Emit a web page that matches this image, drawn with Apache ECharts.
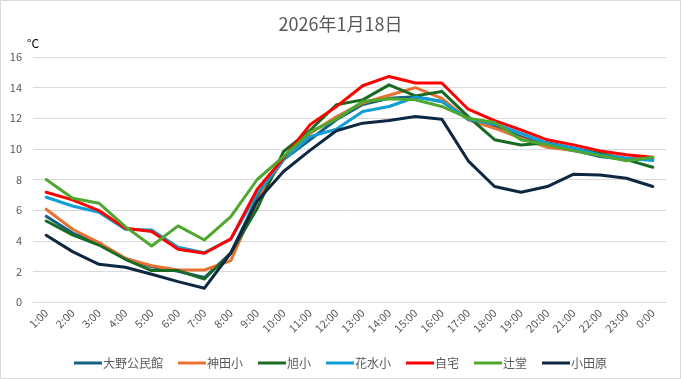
<!DOCTYPE html>
<html><head><meta charset="utf-8">
<script src="https://cdn.jsdelivr.net/npm/echarts@6/dist/echarts.min.js"></script>
<style>html,body{margin:0;padding:0;background:#fff}#c{width:681px;height:379px}</style>
</head><body><div id="c"></div>
<script>
const hours = ['1:00','2:00','3:00','4:00','5:00','6:00','7:00','8:00','9:00','10:00','11:00','12:00','13:00','14:00','15:00','16:00','17:00','18:00','19:00','20:00','21:00','22:00','23:00','0:00'];
const seriesNames = ['大野公民館','神田小','旭小','花水小','自宅','辻堂','小田原'];
const oono    = [5.6,4.5,3.8,2.85,2.3,2.0,1.6,3.2,6.8,9.3,10.6,11.9,12.9,13.3,13.4,13.1,12.0,11.5,10.8,10.2,9.9,9.5,9.3,9.3];
const kanda   = [6.06,4.75,3.88,2.85,2.37,2.09,2.09,2.7,6.6,9.4,11.0,12.1,13.0,13.5,14.0,13.3,11.9,11.35,10.7,10.1,9.9,9.7,9.4,9.4];
const asahi   = [5.29,4.38,3.72,2.79,2.05,2.05,1.5,3.2,6.1,9.83,11.2,12.88,13.2,14.18,13.46,13.75,12.11,10.6,10.25,10.4,10.05,9.7,9.3,8.8];
const hanamizu= [6.84,6.27,5.86,4.75,4.7,3.57,3.22,4.1,7.1,9.3,10.8,11.28,12.44,12.77,13.37,13.1,11.94,11.63,11.02,10.37,10.04,9.6,9.39,9.24];
const jitaku  = [7.17,6.67,5.97,4.81,4.6,3.44,3.18,4.12,7.36,9.4,11.57,12.76,14.12,14.73,14.3,14.3,12.59,11.85,11.24,10.59,10.26,9.87,9.61,9.46];
const tsujido = [8.0,6.78,6.45,4.92,3.66,4.97,4.05,5.58,8.0,9.5,11.1,11.94,13.1,13.27,13.2,12.77,12.0,11.72,10.59,10.26,9.87,9.56,9.22,9.46];
const odawara = [4.36,3.29,2.46,2.27,1.81,1.33,0.9,3.2,6.6,8.52,9.9,11.18,11.68,11.85,12.11,11.94,9.22,7.54,7.17,7.54,8.35,8.3,8.08,7.54];
const colors = ['#156082','#E97132','#196B24','#0F9ED5','#FF0000','#4EA72E','#0E2841'];
const dataSets = [oono,kanda,asahi,hanamizu,jitaku,tsujido,odawara];
const FONT = '"Noto Sans CJK JP", "Noto Sans", sans-serif';
const chart = echarts.init(document.getElementById('c'), null, {renderer:'canvas'});
chart.setOption({
  animation:false,
  textStyle:{fontFamily:FONT},
  title:{text:'2026年1月18日',left:'center',top:10,textStyle:{fontSize:18,fontWeight:'normal',color:'#595959',fontFamily:FONT}},
  graphic:[{type:'rect',shape:{x:0.5,y:0.5,width:680,height:378},style:{fill:'none',stroke:'#d9d9d9',lineWidth:1},silent:true}],
  grid:{left:33,right:15,top:57,bottom:77},
  legend:{top:352,left:'center',icon:'rect',itemWidth:28,itemHeight:3,itemGap:15,
    textStyle:{fontSize:12,color:'#595959',fontFamily:FONT,padding:[0,0,0,-4]},
    data:seriesNames},
  xAxis:{type:'category',data:hours,boundaryGap:true,
    axisLine:{lineStyle:{color:'#d9d9d9'}},axisTick:{show:false},
    axisLabel:{rotate:45,interval:0,fontSize:11,color:'#595959',margin:9,fontFamily:FONT}},
  yAxis:{type:'value',min:0,max:16,interval:2,name:'°C',nameLocation:'end',nameGap:8,
    nameTextStyle:{fontSize:12,color:'#000',align:'center',fontFamily:FONT},
    axisLine:{show:false},axisTick:{show:false},
    axisLabel:{fontSize:11,color:'#595959',margin:11,fontFamily:FONT},
    splitLine:{lineStyle:{color:'#d9d9d9',width:1}}},
  series:seriesNames.map((n,i)=>({name:n,type:'line',data:dataSets[i],symbol:'none',
    color:colors[i],lineStyle:{width:3,color:colors[i],cap:'round',join:'round'}}))
});
</script></body></html>
